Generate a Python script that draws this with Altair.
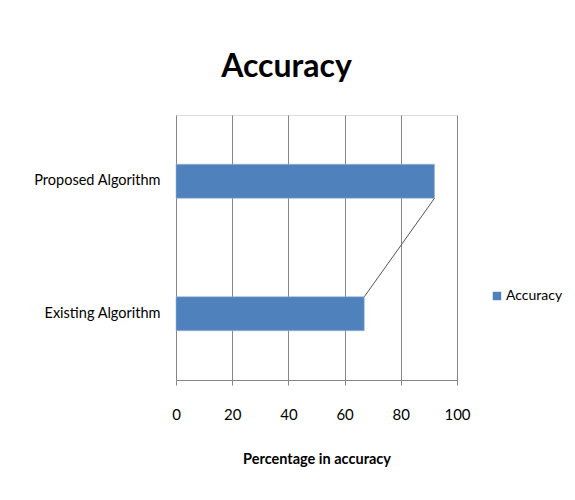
import altair as alt
import pandas as pd

categories = ["Proposed Algorithm", "Existing Algorithm"]
values = [92, 67]
series_name = "Accuracy"
ticks = [0, 20, 40, 60, 80, 100]

FONT = "Lato, sans-serif"

df = pd.DataFrame({"algo": categories, "acc": values, "series": [series_name] * len(categories)})
line_df = pd.DataFrame({
    "ya": [categories[0]], "yb": [categories[1]],
    "xa": [values[0]], "xb": [values[1]],
})

yscale = alt.Scale(domain=categories, paddingInner=0, paddingOuter=0)
xscale = alt.Scale(domain=[0, 100], nice=False)

bars = alt.Chart(df).mark_bar(size=34, stroke="#9DB7DB", strokeWidth=0.6).encode(
    x=alt.X("acc:Q", scale=xscale,
            axis=alt.Axis(values=ticks, title="Percentage in accuracy", grid=True,
                          gridColor="#868686", gridOpacity=1, domainColor="#868686",
                          tickColor="#868686", tickSize=5, labelPadding=22,
                          labelFlush=False,
                          labelFontSize=15, labelColor="black", labelFont=FONT,
                          titleFont=FONT, titleFontSize=14.5, titleFontWeight="bold",
                          titleColor="black", titlePadding=30)),
    y=alt.Y("algo:N", scale=yscale, sort=categories,
            axis=alt.Axis(title=None, ticks=False, domain=False, labelPadding=16,
                          labelFontSize=14.5, labelColor="black", labelFont=FONT)),
    color=alt.Color("series:N", scale=alt.Scale(range=["#4F81BD"]),
                    legend=alt.Legend(title=None, orient="none", legendX=314, legendY=174,
                                      symbolType="square", symbolSize=72,
                                      symbolStrokeWidth=0, labelFontSize=14,
                                      labelFont=FONT, labelColor="black", labelOffset=2)),
)

series_line = alt.Chart(line_df).mark_rule(color="#555555", strokeWidth=1).encode(
    x=alt.X("xa:Q", scale=xscale),
    x2="xb:Q",
    y=alt.Y("ya:N", scale=yscale, sort=categories, bandPosition=0.628),
    y2=alt.Y2("yb:N", bandPosition=0.372),
)

chart = alt.layer(bars, series_line).properties(
    width=281, height=265,
    title=alt.TitleParams("Accuracy", font=FONT, fontSize=32, fontWeight="bold",
                          color="black", anchor="middle", dx=-30, offset=31),
    autosize=alt.AutoSizeParams(type="none"),
    padding={"left": 168, "top": 107, "right": 110, "bottom": 108},
).configure_view(stroke=None).configure(background="white")

chart.save("out.html", embed_options={"renderer": "svg", "actions": False})
